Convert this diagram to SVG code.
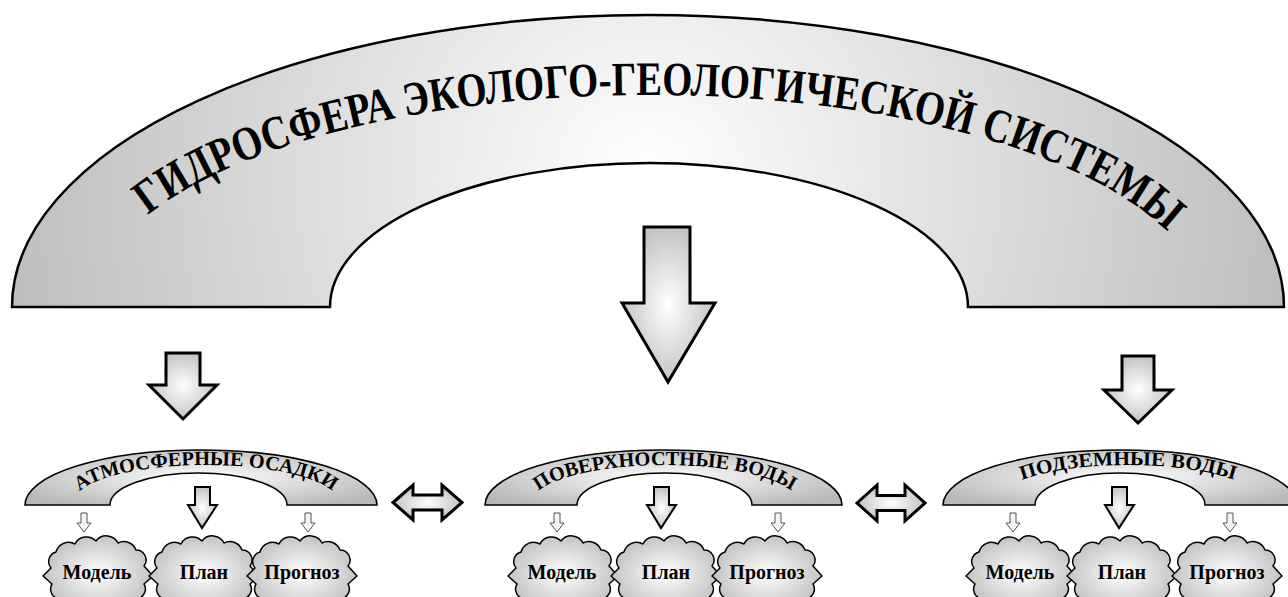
<svg xmlns="http://www.w3.org/2000/svg" xmlns:xlink="http://www.w3.org/1999/xlink" width="1288" height="597" viewBox="0 0 1288 597">
<style>
.sarch{fill:url(#g);stroke:#000;stroke-width:1.6}
.arr{fill:url(#g);stroke:#000;stroke-width:3;stroke-linejoin:miter}
.sarr{fill:#f4f4f4;stroke:#555;stroke-width:1}
.cloud{fill:url(#g);stroke:#000;stroke-width:1.5;stroke-linejoin:round}
.t{font-family:"Liberation Serif","Times New Roman",serif;font-weight:bold;fill:#000}
</style>
<defs>
<radialGradient id="g" cx="0.5" cy="0.5" r="0.6">
<stop offset="0" stop-color="#ffffff"/>
<stop offset="1" stop-color="#b8b8b8"/>
</radialGradient>
<radialGradient id="gb" gradientUnits="userSpaceOnUse" cx="648" cy="180" r="660">
<stop offset="0" stop-color="#ffffff"/>
<stop offset="1" stop-color="#bcbcbc"/>
</radialGradient>
<path id="cloud" d="M -55 4 L -47 -4 A 10 10 0 0 1 -42 -20 A 13 13 0 0 1 -23 -28 A 13 13 0 0 1 -2 -31 A 13 13 0 0 1 20 -29 A 13 13 0 0 1 38 -22 A 10 10 0 0 1 46 -6 L 55 4 L 46 12 A 10 10 0 0 1 38 27 A 13 13 0 0 1 18 33 A 13 13 0 0 1 -4 34 A 13 13 0 0 1 -24 32 A 10 10 0 0 1 -42 26 A 10 10 0 0 1 -46 12 Z"/>
<path id="tpBig" d="M 93 307 A 555 212 0 0 1 1203 307"/>
<path id="tp1" d="M 74 502 A 132 37 0 0 1 338 502"/>
<path id="tp2" d="M 533 502 A 132 37 0 0 1 797 502"/>
<path id="tp3" d="M 996 502 A 132 37 0 0 1 1260 502"/>
</defs>
<rect width="1288" height="597" fill="#fff"/>

<g id="hydrosphere">
<path style="fill:url(#gb);stroke:#000;stroke-width:2.5" d="M 12 307 A 636 292 0 0 1 1284 307 L 968 307 A 319 144 0 0 0 330 307 Z"/>
<text class="t" font-size="48"><textPath href="#tpBig" startOffset="51%" text-anchor="middle" textLength="1070" lengthAdjust="spacingAndGlyphs">ГИДРОСФЕРА ЭКОЛОГО-ГЕОЛОГИЧЕСКОЙ СИСТЕМЫ</textPath></text>
</g>

<g id="atmos">
<path class="sarch" d="M 25 505 A 176 55 0 0 1 377 505 L 287 505 A 88.5 32 0 0 0 110 505 Z"/>
<text class="t" font-size="20"><textPath href="#tp1" startOffset="50%" text-anchor="middle" textLength="262" lengthAdjust="spacingAndGlyphs">АТМОСФЕРНЫЕ ОСАДКИ</textPath></text>
</g>
<g id="surface">
<path class="sarch" d="M 485 505 A 178.5 55 0 0 1 842 505 L 752 505 A 87.5 32 0 0 0 577 505 Z"/>
<text class="t" font-size="20"><textPath href="#tp2" startOffset="50%" text-anchor="middle" textLength="262" lengthAdjust="spacingAndGlyphs">ПОВЕРХНОСТНЫЕ ВОДЫ</textPath></text>
</g>
<g id="ground">
<path class="sarch" d="M 943 505 A 177 55 0 0 1 1297 505 L 1205 505 A 85 32 0 0 0 1035 505 Z"/>
<text class="t" font-size="20"><textPath href="#tp3" startOffset="50%" text-anchor="middle" textLength="215" lengthAdjust="spacingAndGlyphs">ПОДЗЕМНЫЕ ВОДЫ</textPath></text>
</g>

<g id="c1-model"><use href="#cloud" class="cloud" x="98" y="572"/><text class="t" font-size="20" x="97" y="579" text-anchor="middle">Модель</text></g>
<g id="c1-plan"><use href="#cloud" class="cloud" x="204" y="572"/><text class="t" font-size="20" x="204" y="579" text-anchor="middle">План</text></g>
<g id="c1-prognoz"><use href="#cloud" class="cloud" x="302" y="572"/><text class="t" font-size="20" x="302" y="579" text-anchor="middle">Прогноз</text></g>

<g id="c2-model"><use href="#cloud" class="cloud" x="563" y="572"/><text class="t" font-size="20" x="562" y="579" text-anchor="middle">Модель</text></g>
<g id="c2-plan"><use href="#cloud" class="cloud" x="666" y="572"/><text class="t" font-size="20" x="666" y="579" text-anchor="middle">План</text></g>
<g id="c2-prognoz"><use href="#cloud" class="cloud" x="767" y="572"/><text class="t" font-size="20" x="767" y="579" text-anchor="middle">Прогноз</text></g>

<g id="c3-model"><use href="#cloud" class="cloud" x="1021" y="572"/><text class="t" font-size="20" x="1020" y="579" text-anchor="middle">Модель</text></g>
<g id="c3-plan"><use href="#cloud" class="cloud" x="1122" y="572"/><text class="t" font-size="20" x="1122" y="579" text-anchor="middle">План</text></g>
<g id="c3-prognoz"><use href="#cloud" class="cloud" x="1227" y="572"/><text class="t" font-size="20" x="1227" y="579" text-anchor="middle">Прогноз</text></g>

<g id="connectors">
<path class="arr" d="M 644 227 L 690 227 L 690 303 L 715 303 L 668 382 L 622 303 L 644 303 Z"/>
<path class="arr" d="M 166 353 L 200 353 L 200 385 L 217 385 L 183 419 L 149 385 L 166 385 Z"/>
<path class="arr" d="M 1122 356 L 1154 356 L 1154 390 L 1172 390 L 1138 423 L 1104 390 L 1122 390 Z"/>

<path class="arr" style="stroke-width:2" d="M 195 487 L 210 487 L 210 505 L 217 505 L 202 528 L 188 505 L 195 505 Z"/>
<path class="arr" style="stroke-width:2" d="M 654 487 L 669 487 L 669 505 L 676 505 L 661 528 L 647 505 L 654 505 Z"/>
<path class="arr" style="stroke-width:2" d="M 1112 487 L 1127 487 L 1127 505 L 1134 505 L 1119 528 L 1105 505 L 1112 505 Z"/>

<path class="sarr" d="M 81 513 L 87 513 L 87 523 L 91 523 L 84 532 L 77 523 L 81 523 Z"/>
<path class="sarr" d="M 305 513 L 311 513 L 311 523 L 315 523 L 308 532 L 301 523 L 305 523 Z"/>
<path class="sarr" d="M 554 513 L 560 513 L 560 523 L 564 523 L 557 532 L 550 523 L 554 523 Z"/>
<path class="sarr" d="M 775 513 L 781 513 L 781 523 L 785 523 L 778 532 L 771 523 L 775 523 Z"/>
<path class="sarr" d="M 1010 513 L 1016 513 L 1016 523 L 1020 523 L 1013 532 L 1006 523 L 1010 523 Z"/>
<path class="sarr" d="M 1227 513 L 1233 513 L 1233 523 L 1237 523 L 1230 532 L 1223 523 L 1227 523 Z"/>

<path class="arr" d="M 393 502.5 L 413 485 L 413 495 L 442 495 L 442 485 L 462 502.5 L 442 520 L 442 510 L 413 510 L 413 520 Z"/>
<path class="arr" d="M 857 503 L 877 485 L 877 495.5 L 905 495.5 L 905 485 L 925 503 L 905 521 L 905 510.5 L 877 510.5 L 877 521 Z"/>
</g>
</svg>
